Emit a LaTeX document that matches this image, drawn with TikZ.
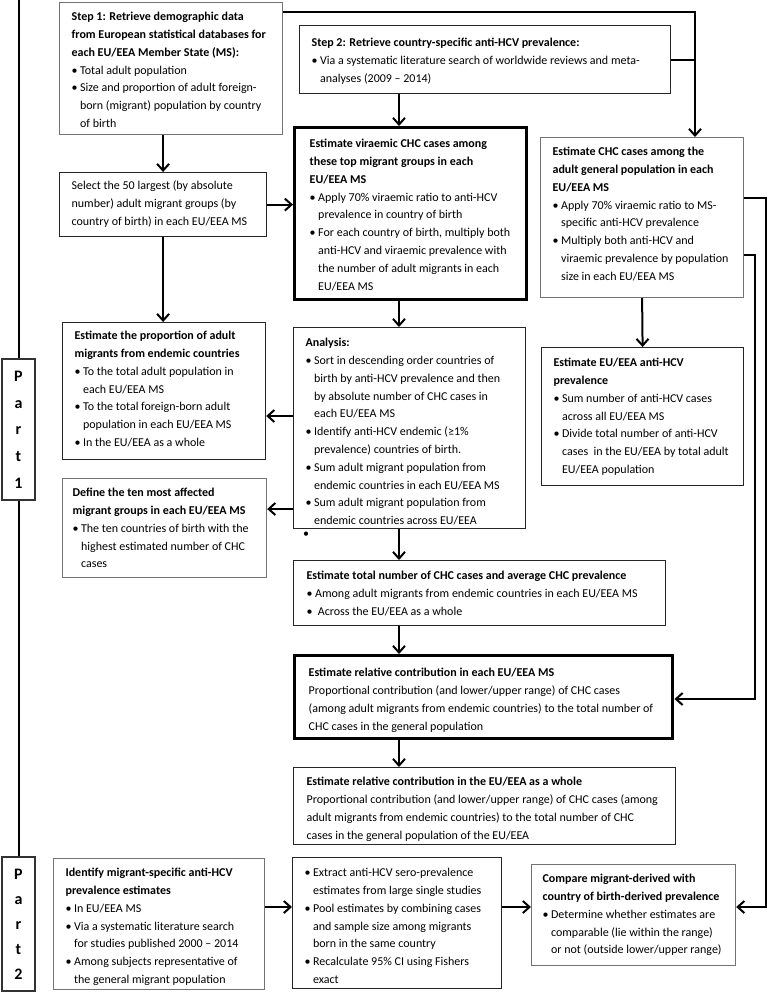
\documentclass[tikz,border=0pt]{standalone}
\usepackage{fontspec}
\setmainfont{Carlito}
\usetikzlibrary{arrows.meta}
\newdimen\pxu \pxu=0.75pt
\newdimen\bxw \newdimen\bxp \newdimen\bxi
\newdimen\bxl \bxl=17.8\pxu
\bxi=8.5\pxu
\newcommand\bxc[5]{\vbox to #2\pxu{\bxw=#1\pxu\bxp=#3\pxu
  \baselineskip=\bxl\lineskip=0pt\lineskiplimit=-\maxdimen
  \hrule height0pt depth0pt width\bxw
  \kern\dimexpr#4\pxu-\bxl\relax
  \hbox{}#5\vss}}
\newcommand\Tln[1]{\hbox to\bxw{\kern\bxp#1\hss}}
\newcommand\Tbu[1]{\hbox to\bxw{\kern\bxp\hbox to\bxi{•\hss}#1\hss}}
\newcommand\Tco[1]{\hbox to\bxw{\kern\bxp\kern\bxi#1\hss}}
\newcommand\Tbf[1]{\Tln{\bfseries #1}}
\begin{document}
\begin{tikzpicture}[x=0.75pt, y=-0.75pt,
  box/.style={draw=black!85, line width=0.9pt, inner sep=0pt, anchor=north west,
    font=\fontsize{9}{13.5}\selectfont},
  graybox/.style={box, draw=black!55},
  thickbox/.style={box, draw=black, line width=2.6pt},
  partbox/.style={draw=black!80, line width=0.9pt, inner sep=0pt, minimum width=24.75pt,
    align=center},
  ln/.style={line width=1.5pt},
  arr/.style={ln, -{Straight Barb[length=5pt,width=9pt]}}]
\useasboundingbox (0,0) rectangle (767,993);

% ---- boxes ----
\node[graybox] (s1) at (59,2) {\bxc{223}{132}{12}{18}{
  \Tbf{Step 1: Retrieve demographic data}
  \Tbf{from European statistical databases for}
  \Tbf{each EU/EEA Member State (MS):}
  \Tbu{Total adult population}
  \Tbu{Size and proportion of adult foreign-}
  \Tco{born (migrant) population by country}
  \Tco{of birth}}};

\node[box] (s2) at (299,25) {\bxc{371}{68}{12}{21}{
  \Tbf{Step 2: Retrieve country-specific anti-HCV prevalence:}
  \Tbu{Via a systematic literature search of worldwide reviews and meta-}
  \Tco{analyses (2009 – 2014)}}};

\node[box] (sel) at (59,172) {\bxc{207}{64}{12}{17}{
  \Tln{Select the 50 largest (by absolute}
  \Tln{number) adult migrant groups (by}
  \Tln{country of birth) in each EU/EEA MS}}};

\node[thickbox] (vir) at (293,126) {\bxc{232}{172}{15}{20}{
  \Tbf{Estimate viraemic CHC cases among}
  \Tbf{these top migrant groups in each}
  \Tbf{EU/EEA MS}
  \Tbu{Apply 70\% viraemic ratio to anti-HCV}
  \Tco{prevalence in country of birth}
  \Tbu{For each country of birth, multiply both}
  \Tco{anti-HCV and viraemic prevalence with}
  \Tco{the number of adult migrants in each}
  \Tco{EU/EEA MS}}};

\node[graybox] (chc) at (540,137) {\bxc{203}{160}{12}{18}{
  \Tbf{Estimate CHC cases among the}
  \Tbf{adult general population in each}
  \Tbf{EU/EEA MS}
  \Tbu{Apply 70\% viraemic ratio to MS-}
  \Tco{specific anti-HCV prevalence}
  \Tbu{Multiply both anti-HCV and}
  \Tco{viraemic prevalence by population}
  \Tco{size in each EU/EEA MS}}};

\node[box] (prop) at (62,322) {\bxc{203}{137}{12}{17}{
  \Tbf{Estimate the proportion of adult}
  \Tbf{migrants from endemic countries}
  \Tbu{To the total adult population in}
  \Tco{each EU/EEA MS}
  \Tbu{To the total foreign-born adult}
  \Tco{population in each EU/EEA MS}
  \Tbu{In the EU/EEA as a whole}}};

\node[box] (ana) at (293,327) {\bxc{232}{201}{12}{19}{
  \Tbf{Analysis:}
  \Tbu{Sort in descending order countries of}
  \Tco{birth by anti-HCV prevalence and then}
  \Tco{by absolute number of CHC cases in}
  \Tco{each EU/EEA MS}
  \Tbu{Identify anti-HCV endemic (≥1\%}
  \Tco{prevalence) countries of birth.}
  \Tbu{Sum adult migrant population from}
  \Tco{endemic countries in each EU/EEA MS}
  \Tbu{Sum adult migrant population from}
  \Tco{endemic countries across EU/EEA}}};
\node[font=\fontsize{9}{13.5}\selectfont, inner sep=0pt] (dot) at (306,535) {•};

\node[box] (euhcv) at (541,347) {\bxc{202}{138}{12}{19}{
  \Tbf{Estimate EU/EEA anti-HCV}
  \Tbf{prevalence}
  \Tbu{Sum number of anti-HCV cases}
  \Tco{across all EU/EEA MS}
  \Tbu{Divide total number of anti-HCV}
  \Tco{cases \ in the EU/EEA by total adult}
  \Tco{EU/EEA population}}};

\node[graybox] (def) at (62,478) {\bxc{204}{99}{10}{18}{
  \Tbf{Define the ten most affected}
  \Tbf{migrant groups in each EU/EEA MS}
  \Tbu{The ten countries of birth with the}
  \Tco{highest estimated number of CHC}
  \Tco{cases}}};

\node[box] (tot) at (293,560) {\bxc{372}{65}{13}{19}{
  \Tbf{Estimate total number of CHC cases and average CHC prevalence}
  \Tbu{Among adult migrants from endemic countries in each EU/EEA MS}
  \Tbu{\ Across the EU/EEA as a whole}}};

\node[thickbox] (rel) at (293,654) {\bxc{378}{83}{14}{21}{
  \Tbf{Estimate relative contribution in each EU/EEA MS}
  \Tln{Proportional contribution (and lower/upper range) of CHC cases}
  \Tln{(among adult migrants from endemic countries) to the total number of}
  \Tln{CHC cases in the general population}}};

\node[box] (euw) at (293,767) {\bxc{382}{77}{13}{18}{
  \Tbf{Estimate relative contribution in the EU/EEA as a whole}
  \Tln{Proportional contribution (and lower/upper range) of CHC cases (among}
  \Tln{adult migrants from endemic countries) to the total number of CHC}
  \Tln{cases in the general population of the EU/EEA}}};

\node[graybox] (ident) at (53,858) {\bxc{211}{131}{12}{18}{
  \Tbf{Identify migrant-specific anti-HCV}
  \Tbf{prevalence estimates}
  \Tbu{In EU/EEA MS}
  \Tbu{Via a systematic literature search}
  \Tco{for studies published 2000 – 2014}
  \Tbu{Among subjects representative of}
  \Tco{the general migrant population}}};

\node[box] (ext) at (292,857) {\bxc{209}{131}{12}{19}{
  \Tbu{Extract anti-HCV sero-prevalence}
  \Tco{estimates from large single studies}
  \Tbu{Pool estimates by combining cases}
  \Tco{and sample size among migrants}
  \Tco{born in the same country}
  \Tbu{Recalculate 95\% CI using Fishers}
  \Tco{exact}}};

\node[graybox] (cmp) at (531,864) {\bxc{204}{101}{11}{18}{
  \Tbf{Compare migrant-derived with}
  \Tbf{country of birth-derived prevalence}
  \Tbu{Determine whether estimates are}
  \Tco{comparable (lie within the range)}
  \Tco{or not (outside lower/upper range)}}};

\node[partbox, minimum height=105.75pt, font=\bfseries\fontsize{12}{20}\selectfont] (p1) at (18.5,429.5) {P\\a\\r\\t\\1};
\node[partbox, minimum height=100.5pt, font=\bfseries\fontsize{12}{18.75}\selectfont] (p2) at (18.5,924) {P\\a\\r\\t\\2};

% ---- connectors ----
\coordinate (ltop) at (18.5,0);
\coordinate (mx) at (399,0);
\coordinate (y1) at (0,416);
\coordinate (y2) at (0,509);
\coordinate (y3) at (0,907);
\coordinate (c1) at (695,12);
\coordinate (c2) at (755,255);
\coordinate (c3) at (0,699);
\coordinate (c4) at (766,198);

\draw[ln] (ltop) -- (p1.north);
\draw[ln] (p1.south) -- (p2.north);

\draw[arr] (s1.south -| sel.north) -- (sel.north);
\draw[arr] (sel.south) -- (sel.south |- prop.north);
\draw[arr] (sel.east) -- (sel.east -| vir.west);
\draw[arr] (s2.south -| mx) -- (vir.north -| mx);
\draw[arr] (vir.south -| mx) -- (ana.north -| mx);
\draw[arr] (ana.west |- y1) -- (prop.east |- y1);
\draw[arr] (ana.west |- y2) -- (def.east |- y2);
\draw[arr] (ana.south -| mx) -- (tot.north -| mx);
\draw[arr] (tot.south -| mx) -- (rel.north -| mx);
\draw[arr] (rel.south -| mx) -- (euw.north -| mx);

\draw[arr] (s1.east |- c1) -- (c1) -- (c1 |- chc.north);
\draw[ln] (s2.east) -- (s2.east -| c1);
\draw[arr] (chc.south) -- (euhcv.north);
\draw[arr] (chc.east |- c2) -- (c2) -- (c2 |- c3) -- (rel.east |- c3);
\draw[arr] (chc.east |- c4) -- (c4) -- (c4 |- y3) -- (cmp.east |- y3);
\draw[arr] (ident.east |- y3) -- (ext.west |- y3);
\draw[arr] (ext.east |- y3) -- (cmp.west |- y3);
\end{tikzpicture}
\end{document}
